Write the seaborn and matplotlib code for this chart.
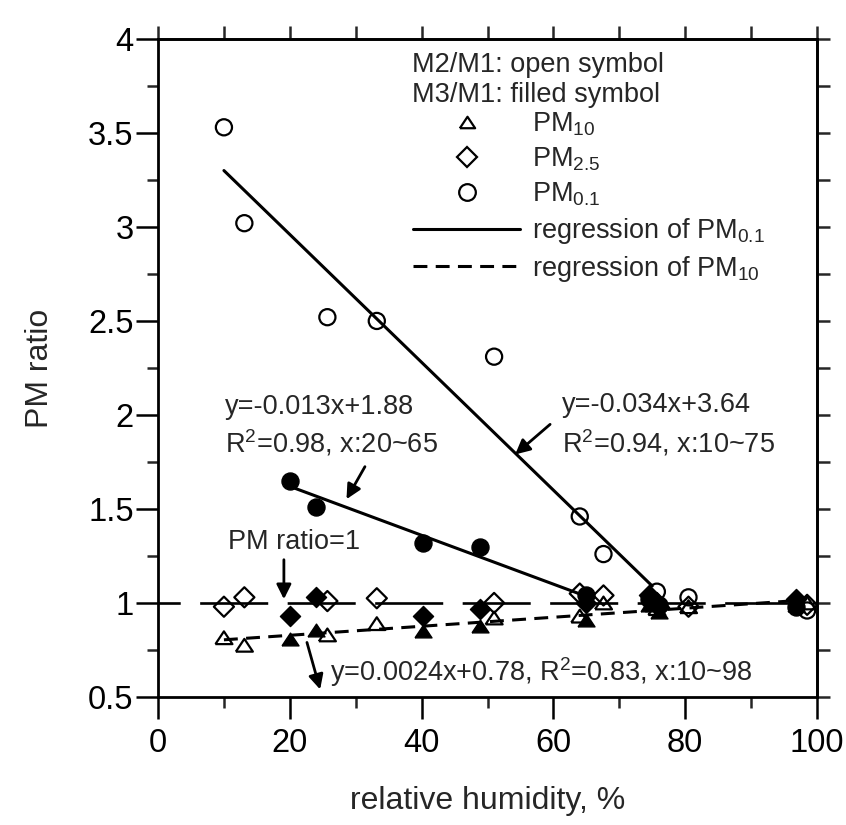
import numpy as np
import pandas as pd
import matplotlib
matplotlib.use("Agg")
import matplotlib.pyplot as plt
import seaborn as sns
from matplotlib.lines import Line2D
from matplotlib.ticker import FuncFormatter

# ---------------- data ----------------
# M2/M1 ratios (open symbols)
open_rh = [10.0, 13.1, 25.7, 33.2, 51.0, 64.0, 67.6, 75.7, 80.5, 98.5]
open_pm01 = [3.53, 3.02, 2.52, 2.50, 2.31, 1.46, 1.26, 1.06, 1.03, 0.96]
open_pm25 = [0.98, 1.03, 1.01, 1.025, 1.00, 1.05, 1.04, 1.00, 0.98, 0.99]
open_pm10 = [0.815, 0.775, 0.83, 0.89, 0.92, 0.93, 1.00, 0.97, 0.98, 1.00]

# M3/M1 ratios (filled symbols)
filled_rh = [20.0, 24.0, 40.2, 48.9, 65.0, 74.5, 76.0, 96.8]
filled_pm01 = [1.65, 1.51, 1.32, 1.30, 1.04, 1.02, 0.99, 0.98]
filled_pm25 = [0.93, 1.03, 0.93, 0.97, 1.00, 1.04, 0.98, 1.02]
filled_pm10 = [0.81, 0.855, 0.85, 0.88, 0.91, 0.99, 0.95, 0.99]

# regression lines as given on the chart: slope, intercept, x range
reg_open01 = dict(a=-0.034, b=3.64, x=[10, 75])
reg_fill01 = dict(a=-0.013, b=1.88, x=[20, 65])
reg_pm10 = dict(a=0.0024, b=0.78, x=[10, 98])
ref_line_x = [0, 100]
ref_line_y = [1, 1]

x_ticks = [0, 20, 40, 60, 80, 100]
y_ticks = [0.5, 1, 1.5, 2, 2.5, 3, 3.5, 4]

# ---------------- style ----------------
sns.set_style("ticks")
plt.rcParams["font.family"] = ["Liberation Sans", "DejaVu Sans"]
plt.rcParams["mathtext.default"] = "regular"
plt.rcParams["lines.scale_dashes"] = False

fig = plt.figure(figsize=(8.46, 8.25), dpi=100)
ax = fig.add_axes([0.1868, 0.1552, 0.7789, 0.7976])

LW = 2.2
TXT = 19.5
TRI = [(-1, -0.75), (1, -0.75), (0, 0.75), (-1, -0.75)]

def reg_xy(r):
    xs = np.array(r["x"], dtype=float)
    return xs, r["a"] * xs + r["b"]

# reference line y = 1
sns.lineplot(x=ref_line_x, y=ref_line_y, ax=ax, color="black", lw=1.9,
             linestyle=(33, (49, 14)), zorder=2)
# regression lines
xs, ys = reg_xy(reg_open01)
sns.lineplot(x=xs, y=ys, ax=ax, color="black", lw=LW, zorder=2)
xs, ys = reg_xy(reg_fill01)
sns.lineplot(x=xs, y=ys, ax=ax, color="black", lw=LW, zorder=2)
xs, ys = reg_xy(reg_pm10)
sns.lineplot(x=xs, y=ys, ax=ax, color="black", lw=LW,
             linestyle=(0, (10, 6)), zorder=2)

# open symbols
sns.scatterplot(x=open_rh, y=open_pm10, ax=ax, marker=TRI, s=150,
                facecolors="none", edgecolors="black", linewidths=1.6, zorder=3)
sns.scatterplot(x=open_rh, y=open_pm25, ax=ax, marker="D", s=105,
                facecolors="none", edgecolors="black", linewidths=1.6, zorder=3)
sns.scatterplot(x=open_rh, y=open_pm01, ax=ax, marker="o", s=135,
                facecolors="none", edgecolors="black", linewidths=1.6, zorder=3)
# filled symbols
sns.scatterplot(x=filled_rh, y=filled_pm10, ax=ax, marker=TRI, s=150,
                color="black", edgecolor="black", linewidth=1.0, zorder=4)
sns.scatterplot(x=filled_rh, y=filled_pm25, ax=ax, marker="D", s=105,
                color="black", edgecolor="black", linewidth=1.0, zorder=4)
sns.scatterplot(x=filled_rh, y=filled_pm01, ax=ax, marker="o", s=150,
                color="black", edgecolor="black", linewidth=1.0, zorder=4)

# axes
ax.set_xlim(0, 100)
ax.set_ylim(0.5, 4)
ax.set_xticks(x_ticks)
ax.set_xticks(np.arange(0, 101, 10), minor=True)
ax.set_yticks(y_ticks)
ax.set_yticks(np.arange(0.5, 4.01, 0.25), minor=True)
ax.yaxis.set_major_formatter(FuncFormatter(lambda v, p: f"{v:g}"))
ax.tick_params(which="major", direction="out", length=15.5, width=1.8,
               labelsize=23.5, colors="black")
ax.tick_params(axis="y", which="major", pad=2)
ax.tick_params(axis="x", which="major", pad=7)
ax.tick_params(which="minor", direction="out", length=8, width=1.8)
for sp in ax.spines.values():
    sp.set_linewidth(2.0)
    sp.set_color("black")

secx = ax.secondary_xaxis("top")
secx.set_xticks(np.arange(0, 101, 10))
secx.tick_params(direction="out", length=9.5, width=1.8, labeltop=False)
secx.spines["top"].set_linewidth(2.0)
secy = ax.secondary_yaxis("right")
secy.set_yticks(np.arange(0.5, 4.01, 0.25))
secy.tick_params(direction="out", length=9.5, width=1.8, labelright=False)
secy.spines["right"].set_linewidth(2.0)

ax.set_xlabel("relative humidity, %", fontsize=23)
ax.set_ylabel("PM ratio", fontsize=23)
ax.xaxis.set_label_coords(0.5, -0.135)
ax.yaxis.set_label_coords(-0.156, 0.5)

# header text of legend
ax.text(0.385, 0.961, "M2/M1: open symbol", transform=ax.transAxes,
        fontsize=TXT, va="center", ha="left")
ax.text(0.385, 0.915, "M3/M1: filled symbol", transform=ax.transAxes,
        fontsize=TXT, va="center", ha="left")

handles = [
    Line2D([], [], ls="none", marker=TRI, ms=11, mfc="none", mec="black", mew=1.6),
    Line2D([], [], ls="none", marker="D", ms=10, mfc="none", mec="black", mew=1.6),
    Line2D([], [], ls="none", marker="o", ms=12, mfc="none", mec="black", mew=1.6),
    Line2D([], [], color="black", lw=LW),
    Line2D([], [], color="black", lw=LW, ls=(0, (10, 6))),
]
labels = ["PM$_{10}$", "PM$_{2.5}$", "PM$_{0.1}$",
          "regression of PM$_{0.1}$", "regression of PM$_{10}$"]
ax.legend(handles, labels, loc="upper left", bbox_to_anchor=(0.387, 0.892),
          frameon=False, fontsize=TXT, handlelength=3.95, handletextpad=0.45,
          borderpad=0, borderaxespad=0, labelspacing=0.29)

# annotations
arrow = dict(arrowstyle="-|>", color="black", lw=2, mutation_scale=22,
             shrinkA=0, shrinkB=0)
ax.text(61.3, 2.053, "y=-0.034x+3.64", fontsize=TXT, va="center")
ax.text(61.3, 1.851, "R$^2$=0.94, x:10~75", fontsize=TXT, va="center")
ax.annotate("", xy=(54.2, 1.79), xytext=(59.5, 1.95), arrowprops=arrow)

ax.text(10.2, 2.043, "y=-0.013x+1.88", fontsize=TXT, va="center")
ax.text(10.2, 1.851, "R$^2$=0.98, x:20~65", fontsize=TXT, va="center")
ax.annotate("", xy=(28.6, 1.552), xytext=(31.4, 1.725), arrowprops=arrow)

ax.text(10.6, 1.324, "PM ratio=1", fontsize=TXT, va="center")
ax.annotate("", xy=(19.1, 1.02), xytext=(19.1, 1.23), arrowprops=arrow)

ax.text(26.1, 0.633, "y=0.0024x+0.78, R$^2$=0.83, x:10~98", fontsize=TXT, va="center")
ax.annotate("", xy=(24.6, 0.54), xytext=(22.6, 0.79), arrowprops=arrow)

fig.savefig("out.png", dpi=100)
